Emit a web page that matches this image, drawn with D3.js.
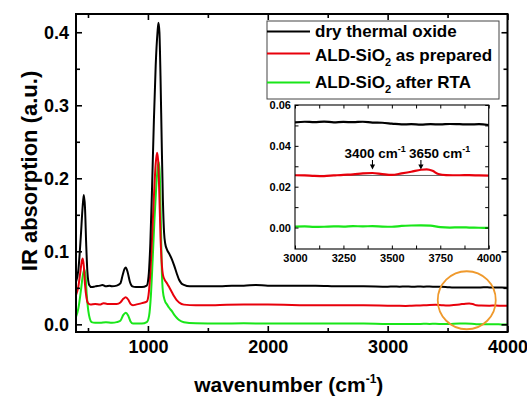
<!DOCTYPE html>
<html>
<head>
<meta charset="utf-8">
<script src="https://cdn.jsdelivr.net/npm/d3@7"></script>
<style>
  html, body { margin: 0; padding: 0; background: #fff; }
  svg { display: block; }
  text { font-family: "Liberation Sans", Arial, sans-serif; font-weight: bold; fill: #000; }
</style>
</head>
<body>
<svg id="chart" width="527" height="398"></svg>
<script>
// ---- spectra: [wavenumber (cm^-1), IR absorption (a.u.)] ----
const thermalOxide = [
  [400,0.058],[420,0.075],[440,0.120],[455,0.160],[465,0.177],[475,0.160],[485,0.110],[495,0.072],
  [510,0.054],[530,0.051],[560,0.052],[600,0.053],[620,0.054],[650,0.052],[680,0.053],[700,0.052],
  [740,0.053],[770,0.056],[790,0.068],[805,0.076],[815,0.078],[830,0.072],[850,0.058],[870,0.052],
  [900,0.051],[950,0.051],[990,0.053],[1005,0.065],[1020,0.110],[1035,0.190],[1050,0.280],[1065,0.355],
  [1080,0.400],[1088,0.413],[1096,0.400],[1105,0.340],[1115,0.250],[1125,0.170],[1135,0.125],[1145,0.110],
  [1160,0.102],[1180,0.096],[1200,0.089],[1220,0.080],[1240,0.070],[1260,0.061],[1280,0.056],[1300,0.054],
  [1350,0.052],[1400,0.052],[1500,0.052],[1600,0.052],[1700,0.053],[1800,0.053],[1900,0.054],[2000,0.053],
  [2200,0.053],[2400,0.053],[2600,0.052],[2800,0.052],[3000,0.0515],[3050,0.0518],[3100,0.0516],
  [3150,0.0519],[3200,0.0515],[3250,0.0517],[3300,0.0516],[3350,0.0518],[3400,0.0514],[3450,0.0513],
  [3500,0.0509],[3550,0.0505],[3600,0.0506],[3650,0.0504],[3700,0.0506],[3750,0.0505],[3800,0.0507],
  [3850,0.0506],[3900,0.0505],[3950,0.0506],[4000,0.0502]
];
const aldPrepared = [
  [400,0.040],[420,0.052],[435,0.070],[448,0.086],[456,0.090],[465,0.080],[475,0.055],[488,0.036],
  [500,0.029],[520,0.027],[560,0.028],[600,0.027],[630,0.029],[660,0.028],[700,0.028],[740,0.028],
  [770,0.030],[795,0.035],[815,0.037],[835,0.034],[855,0.028],[875,0.026],[900,0.027],[950,0.029],
  [990,0.031],[1005,0.040],[1020,0.070],[1035,0.120],[1050,0.175],[1065,0.220],[1076,0.235],[1085,0.225],
  [1095,0.180],[1105,0.120],[1115,0.085],[1125,0.068],[1140,0.061],[1160,0.056],[1180,0.050],[1200,0.044],
  [1220,0.038],[1240,0.033],[1260,0.030],[1300,0.027],[1400,0.026],[1500,0.026],[1600,0.0265],[1800,0.027],
  [2000,0.027],[2200,0.0265],[2400,0.026],[2600,0.026],[2800,0.026],[3000,0.0256],[3050,0.0255],
  [3100,0.0253],[3150,0.0252],[3200,0.0255],[3250,0.0258],[3300,0.0260],[3350,0.0265],[3400,0.0267],
  [3450,0.0262],[3500,0.0258],[3550,0.0265],[3600,0.0273],[3650,0.0283],[3680,0.0285],[3710,0.0278],
  [3740,0.0262],[3780,0.0257],[3850,0.0256],[3900,0.0257],[3950,0.0255],[4000,0.0254]
];
const aldAnnealed = [
  [400,0.010],[420,0.022],[440,0.045],[458,0.068],[470,0.075],[480,0.065],[490,0.040],[503,0.018],
  [515,0.008],[530,0.003],[560,0.002],[600,0.002],[650,0.003],[700,0.002],[740,0.003],[770,0.005],
  [795,0.013],[815,0.016],[835,0.012],[855,0.004],[875,0.001],[900,0.001],[950,0.001],[990,0.003],
  [1010,0.012],[1025,0.040],[1040,0.090],[1055,0.145],[1070,0.190],[1082,0.215],[1092,0.222],[1100,0.200],
  [1108,0.140],[1115,0.080],[1125,0.045],[1140,0.033],[1160,0.027],[1180,0.022],[1200,0.018],[1220,0.013],
  [1240,0.009],[1260,0.006],[1300,0.003],[1400,0.0015],[1600,0.001],[1800,0.0015],[2000,0.001],
  [2400,0.001],[2800,0.001],[3000,0.0005],[3050,0.0006],[3100,0.0003],[3150,0.0004],[3200,0.0006],
  [3250,0.0005],[3300,0.0007],[3350,0.0006],[3400,0.0007],[3450,0.0005],[3500,0.0004],[3550,0.0008],
  [3600,0.0010],[3650,0.0011],[3700,0.0009],[3750,0.0002],[3800,0.0000],[3850,0.0001],[3900,0.0000],
  [3950,-0.0001],[4000,-0.0002]
];

const seriesNames = ["dry thermal oxide", "ALD-SiO|2| as prepared", "ALD-SiO|2| after RTA"];
const seriesColors = ["#000000", "#e8000b", "#19e619"];
const seriesData = [thermalOxide, aldPrepared, aldAnnealed];

// main axes
const xMajorTicks = [1000, 2000, 3000, 4000];
const xMinorTicks = [500, 1500, 2500, 3500];
const yMajorTicks = [0.0, 0.1, 0.2, 0.3, 0.4];
const yMinorTicks = [0.05, 0.15, 0.25, 0.35];

// inset axes
const insetXMajor = [3000, 3250, 3500, 3750, 4000];
const insetXMinor = [3125, 3375, 3625, 3875];
const insetYMajor = [0.00, 0.02, 0.04, 0.06];
const insetYMinor = [0.01, 0.03, 0.05];
const insetBaseline = 0.0255;           // reference level under the OH bands
const bandMarks = [3400, 3650];         // marked O-H bands (cm^-1)
const highlightCentre = [3660, 0.033];  // circled region on the main plot

// ---------------------------------------------------------------
const svg = d3.select("#chart");
const plot = { left: 76, top: 14, right: 507.5, bottom: 332 };

const x = d3.scaleLinear().domain([400, 4000]).range([plot.left, plot.right]);
const y = d3.scaleLinear().domain([-0.0105, 0.425]).range([plot.bottom, plot.top]);

svg.append("defs").append("clipPath").attr("id", "plotClip")
  .append("rect")
  .attr("x", plot.left).attr("y", plot.top)
  .attr("width", plot.right - plot.left).attr("height", plot.bottom - plot.top);

const line = d3.line().x(d => x(d[0])).y(d => y(d[1])).curve(d3.curveMonotoneX);

// draw green first so black sits on top
const curves = svg.append("g").attr("clip-path", "url(#plotClip)");
seriesData.slice().reverse().forEach((s, i) => {
  const k = seriesData.length - 1 - i;
  curves.append("path").datum(s)
    .attr("d", line)
    .attr("fill", "none")
    .attr("stroke", seriesColors[k])
    .attr("stroke-width", 2)
    .attr("stroke-linejoin", "round");
});

// axes with inward ticks
function styleAxis(g, fontSize) {
  g.select(".domain").remove();
  g.selectAll(".tick line").attr("stroke", "#000").attr("stroke-width", 1.6);
  g.selectAll(".tick text").attr("font-size", fontSize).attr("fill", "#000")
    .attr("font-family", "Liberation Sans, Arial, sans-serif").attr("font-weight", "bold");
}
const axes = svg.append("g");
axes.append("g").attr("transform", `translate(0,${plot.bottom})`)
  .call(d3.axisBottom(x).tickValues(xMajorTicks).tickSize(-6).tickPadding(8).tickFormat(d3.format("d")))
  .call(g => styleAxis(g, 18));
axes.append("g").attr("transform", `translate(0,${plot.bottom})`)
  .call(d3.axisBottom(x).tickValues(xMinorTicks).tickSize(-4).tickFormat(""))
  .call(g => styleAxis(g, 18));
axes.append("g").attr("transform", `translate(0,${plot.top})`)
  .call(d3.axisTop(x).tickValues(xMajorTicks).tickSize(-6).tickFormat(""))
  .call(g => styleAxis(g, 18));
axes.append("g").attr("transform", `translate(0,${plot.top})`)
  .call(d3.axisTop(x).tickValues(xMinorTicks).tickSize(-4).tickFormat(""))
  .call(g => styleAxis(g, 18));
axes.append("g").attr("transform", `translate(${plot.left},0)`)
  .call(d3.axisLeft(y).tickValues(yMajorTicks).tickSize(-6).tickPadding(7).tickFormat(d3.format(".1f")))
  .call(g => styleAxis(g, 18));
axes.append("g").attr("transform", `translate(${plot.left},0)`)
  .call(d3.axisLeft(y).tickValues(yMinorTicks).tickSize(-4).tickFormat(""))
  .call(g => styleAxis(g, 18));
axes.append("g").attr("transform", `translate(${plot.right},0)`)
  .call(d3.axisRight(y).tickValues(yMajorTicks).tickSize(-6).tickFormat(""))
  .call(g => styleAxis(g, 18));
axes.append("g").attr("transform", `translate(${plot.right},0)`)
  .call(d3.axisRight(y).tickValues(yMinorTicks).tickSize(-4).tickFormat(""))
  .call(g => styleAxis(g, 18));

svg.append("rect")
  .attr("x", plot.left).attr("y", plot.top)
  .attr("width", plot.right - plot.left).attr("height", plot.bottom - plot.top)
  .attr("fill", "none").attr("stroke", "#000").attr("stroke-width", 2);

// axis titles
const xTitle = svg.append("text")
  .attr("x", (plot.left + plot.right) / 2 - 3).attr("y", 392)
  .attr("text-anchor", "middle").attr("font-size", 21);
xTitle.append("tspan").text("wavenumber (cm");
xTitle.append("tspan").attr("font-size", 12).attr("dy", -9).text("-1");
xTitle.append("tspan").attr("dy", 9).text(")");

svg.append("text")
  .attr("transform", "translate(37,171) rotate(-90)")
  .attr("text-anchor", "middle").attr("font-size", 22)
  .text("IR absorption (a.u.)");

// highlight circle around the O-H region
svg.append("circle")
  .attr("cx", x(highlightCentre[0])).attr("cy", y(highlightCentre[1]))
  .attr("r", 29)
  .attr("fill", "none").attr("stroke", "#ef992c").attr("stroke-width", 1.8);

// ---- legend ----
const legend = { x0: 267, y0: 21, x1: 499, y1: 99 };
svg.append("rect")
  .attr("x", legend.x0).attr("y", legend.y0)
  .attr("width", legend.x1 - legend.x0).attr("height", legend.y1 - legend.y0)
  .attr("fill", "#fff").attr("stroke", "#444").attr("stroke-width", 1);
const rowLine = [31.5, 53.5, 82.5];
const rowBase = [37, 61, 88];
seriesNames.forEach((name, i) => {
  svg.append("line")
    .attr("x1", legend.x0).attr("x2", 310)
    .attr("y1", rowLine[i]).attr("y2", rowLine[i])
    .attr("stroke", seriesColors[i]).attr("stroke-width", 2);
  const t = svg.append("text").attr("x", 315).attr("y", rowBase[i]).attr("font-size", 17);
  const parts = name.split("|");
  parts.forEach((p, j) => {
    if (j % 2 === 1) {
      t.append("tspan").attr("font-size", 11).attr("dy", 5).text(p);
    } else if (j > 0) {
      t.append("tspan").attr("dy", -5).text(p);
    } else {
      t.append("tspan").text(p);
    }
  });
});

// ---- inset: 3000-4000 cm^-1 detail ----
const inset = { left: 295, top: 105, right: 488.7, bottom: 249 };
const xi = d3.scaleLinear().domain([3000, 4000]).range([inset.left, inset.right]);
const yi = d3.scaleLinear().domain([-0.0105, 0.06]).range([inset.bottom, inset.top]);

svg.append("rect")
  .attr("x", inset.left).attr("y", inset.top)
  .attr("width", inset.right - inset.left).attr("height", inset.bottom - inset.top)
  .attr("fill", "#fff");

svg.append("defs").append("clipPath").attr("id", "insetClip")
  .append("rect")
  .attr("x", inset.left).attr("y", inset.top)
  .attr("width", inset.right - inset.left).attr("height", inset.bottom - inset.top);

const insetG = svg.append("g").attr("clip-path", "url(#insetClip)");
insetG.append("line")
  .attr("x1", xi(3000)).attr("x2", xi(4000))
  .attr("y1", yi(insetBaseline)).attr("y2", yi(insetBaseline))
  .attr("stroke", "#666").attr("stroke-width", 1);

const lineInset = d3.line().x(d => xi(d[0])).y(d => yi(d[1])).curve(d3.curveMonotoneX);
seriesData.forEach((s, k) => {
  insetG.append("path").datum(s.filter(d => d[0] >= 3000))
    .attr("d", lineInset)
    .attr("fill", "none")
    .attr("stroke", seriesColors[k])
    .attr("stroke-width", 2.2)
    .attr("stroke-linejoin", "round");
});

function styleInset(g) {
  g.select(".domain").remove();
  g.selectAll(".tick line").attr("stroke", "#000").attr("stroke-width", 1);
  g.selectAll(".tick text").attr("font-size", 11).attr("fill", "#000")
    .attr("font-family", "Liberation Sans, Arial, sans-serif").attr("font-weight", "bold");
}
const insetTicksX = insetXMajor.concat(insetXMinor);
const insetTicksY = insetYMajor.concat(insetYMinor);
svg.append("g").attr("transform", `translate(0,${inset.bottom})`)
  .call(d3.axisBottom(xi).tickValues(insetXMajor).tickSize(-3.5).tickPadding(5).tickFormat(d3.format("d")))
  .call(styleInset);
svg.append("g").attr("transform", `translate(0,${inset.bottom})`)
  .call(d3.axisBottom(xi).tickValues(insetXMinor).tickSize(-3.5).tickFormat(""))
  .call(styleInset);
svg.append("g").attr("transform", `translate(0,${inset.top})`)
  .call(d3.axisTop(xi).tickValues(insetTicksX).tickSize(-3.5).tickFormat(""))
  .call(styleInset);
svg.append("g").attr("transform", `translate(${inset.left},0)`)
  .call(d3.axisLeft(yi).tickValues(insetYMajor).tickSize(-3.5).tickPadding(4).tickFormat(d3.format(".2f")))
  .call(styleInset);
svg.append("g").attr("transform", `translate(${inset.left},0)`)
  .call(d3.axisLeft(yi).tickValues(insetYMinor).tickSize(-3.5).tickFormat(""))
  .call(styleInset);
svg.append("g").attr("transform", `translate(${inset.right},0)`)
  .call(d3.axisRight(yi).tickValues(insetTicksY).tickSize(-3.5).tickFormat(""))
  .call(styleInset);

svg.append("rect")
  .attr("x", inset.left).attr("y", inset.top)
  .attr("width", inset.right - inset.left).attr("height", inset.bottom - inset.top)
  .attr("fill", "none").attr("stroke", "#000").attr("stroke-width", 1.1);

// band annotations with arrows pointing at the red spectrum
const labelStart = [-28, -12];   // label left edge relative to its arrow
bandMarks.forEach((wn, i) => {
  const ax = xi(wn);
  const yTip = yi(0.0267) - 3.5;
  svg.append("line")
    .attr("x1", ax).attr("x2", ax)
    .attr("y1", 160).attr("y2", yTip - 4)
    .attr("stroke", "#000").attr("stroke-width", 1.1);
  svg.append("path")
    .attr("d", `M${ax - 2.6},${yTip - 5} L${ax + 2.6},${yTip - 5} L${ax},${yTip} Z`)
    .attr("fill", "#000");
  const t = svg.append("text")
    .attr("x", ax + labelStart[i]).attr("y", 157.5)
    .attr("text-anchor", "start").attr("font-size", 13.5)
    .attr("font-family", "Liberation Serif, Times New Roman, serif");
  t.append("tspan").text(`${wn} cm`);
  t.append("tspan").attr("font-size", 9).attr("dy", -6).text("-1");
});
</script>
</body>
</html>
